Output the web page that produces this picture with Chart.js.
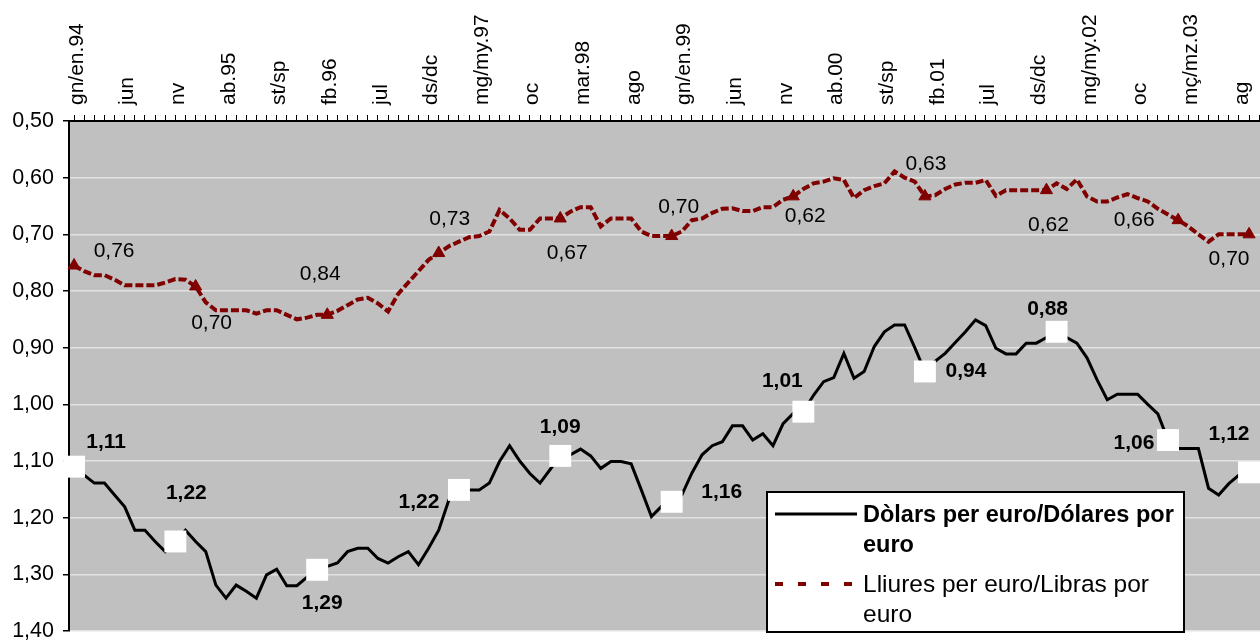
<!DOCTYPE html>
<html>
<head>
<meta charset="utf-8">
<script src="https://cdn.jsdelivr.net/npm/chart.js@4.4.1/dist/chart.umd.min.js"></script>
<style>
  html, body { margin: 0; padding: 0; width: 1260px; height: 640px; overflow: hidden; background: #fff; }
</style>
</head>
<body>
<canvas id="myCanvas" width="1300" height="660"></canvas>
<script>
var tickLabels = ['gn/en.94', 'jun', 'nv', 'ab.95', 'st/sp', 'fb.96', 'jul', 'ds/dc', 'mg/my.97', 'oc',
  'mar.98', 'ago', 'gn/en.99', 'jun', 'nv', 'ab.00', 'st/sp', 'fb.01', 'jul', 'ds/dc', 'mg/my.02', 'oc',
  'mç/mz.03', 'ag']

// dollars per euro, monthly from Jan 1994
var usd = [
  1.11, 1.125, 1.139, 1.139, 1.16, 1.181, 1.222, 1.222, 1.242, 1.26, 1.242, 1.222,
  1.242, 1.26, 1.319, 1.342, 1.319, 1.33, 1.342, 1.301, 1.291, 1.32, 1.32, 1.305,
  1.292, 1.286, 1.28, 1.26, 1.254, 1.254, 1.272, 1.28, 1.269, 1.26, 1.283, 1.254,
  1.222, 1.169, 1.151, 1.151, 1.151, 1.139, 1.101, 1.073, 1.10, 1.122, 1.139, 1.115,
  1.091, 1.089, 1.079, 1.091, 1.113, 1.101, 1.101, 1.105, 1.151, 1.198, 1.18, 1.172,
  1.16, 1.121, 1.089, 1.073, 1.066, 1.038, 1.038, 1.063, 1.052, 1.073, 1.034, 1.016,
  1.013, 0.984, 0.96, 0.953, 0.91, 0.954, 0.942, 0.898, 0.872, 0.86, 0.86, 0.90,
  0.942, 0.924, 0.91, 0.891, 0.872, 0.851, 0.861, 0.901, 0.911, 0.911, 0.892, 0.892,
  0.882, 0.872, 0.882, 0.892, 0.918, 0.957, 0.992, 0.982, 0.982, 0.982, 1.0, 1.017,
  1.063, 1.078, 1.078, 1.078, 1.148, 1.16, 1.14, 1.125, 1.12
]

// pounds per euro
var gbp = [
  0.755, 0.765, 0.772, 0.772, 0.78, 0.79, 0.79, 0.79, 0.79, 0.785, 0.779, 0.78,
  0.792, 0.82, 0.834, 0.834, 0.834, 0.834, 0.84, 0.834, 0.834, 0.842, 0.85, 0.847,
  0.842, 0.842, 0.835, 0.825, 0.815, 0.812, 0.822, 0.836, 0.805, 0.785, 0.765, 0.745,
  0.733, 0.721, 0.713, 0.705, 0.703, 0.695, 0.657, 0.672, 0.692, 0.692, 0.672, 0.672,
  0.672, 0.66, 0.652, 0.652, 0.686, 0.672, 0.672, 0.672, 0.695, 0.703, 0.703, 0.703,
  0.695, 0.675, 0.672, 0.662, 0.655, 0.654, 0.659, 0.659, 0.652, 0.652, 0.639, 0.633,
  0.62, 0.61, 0.607, 0.601, 0.604, 0.636, 0.622, 0.615, 0.61, 0.589, 0.6, 0.607,
  0.633, 0.631, 0.62, 0.612, 0.609, 0.609, 0.604, 0.632, 0.622, 0.622, 0.622, 0.622,
  0.622, 0.61, 0.62, 0.603, 0.633, 0.642, 0.642, 0.635, 0.629, 0.636, 0.642, 0.655,
  0.665, 0.675, 0.686, 0.70, 0.713, 0.70, 0.70, 0.70, 0.70
]

// marked points and the texts printed next to them
var usdMarks = [0, 10, 24, 38, 48, 59, 72, 84, 97, 108, 116]
var usdNotes = ['1,11', '1,22', '1,29', '1,22', '1,09', '1,16', '1,01', '0,94', '0,88', '1,06', '1,12']
var gbpMarks = [0, 12, 25, 36, 48, 59, 71, 84, 96, 109, 116]
var gbpNotes = ['0,76', '0,70', '0,84', '0,73', '0,67', '0,70', '0,62', '0,63', '0,62', '0,66', '0,70']

// months Jan 1994 .. Dec 2003
var months = []
for (var i = 0; i < 120; i++) {
  months.push((1994 + Math.floor(i / 12)) + '-' + (i % 12 + 1))
}

// where each note sits relative to its marker (px)
var usdNoteOffsets = [[32, -24], [11, -48], [5, 33], [-40, 12], [0, -29], [50, -10], [-21, -30], [41, 0], [-9, -23], [-34, 3], [-20, -38]]
var gbpNoteOffsets = [[40, -14], [16, 37], [-7, -41], [11, -34], [7, 35], [7, -29], [12, 20], [1, -32], [2, 35], [-44, 0], [-20, 25]]

var FONT = '"Liberation Sans", Arial, sans-serif'
Chart.defaults.font.family = FONT
Chart.defaults.color = '#000'

var plotBg = {
  id: 'plotBg',
  beforeDraw: function (chart) {
    var c = chart.ctx, a = chart.chartArea
    c.save()
    c.fillStyle = '#fff'
    c.fillRect(0, 0, chart.width, chart.height)
    c.fillStyle = '#c0c0c0'
    c.fillRect(a.left, a.top, a.right - a.left, a.bottom - a.top)
    c.restore()
  }
}

var notes = {
  id: 'notes',
  afterDatasetsDraw: function (chart) {
    var c = chart.ctx
    var sets = [
      { meta: chart.getDatasetMeta(0), idx: usdMarks, txt: usdNotes, off: usdNoteOffsets, font: 'bold 21px ' + FONT },
      { meta: chart.getDatasetMeta(1), idx: gbpMarks, txt: gbpNotes, off: gbpNoteOffsets, font: '21px ' + FONT }
    ]
    c.save()
    c.fillStyle = '#000'
    c.textAlign = 'center'
    c.textBaseline = 'middle'
    sets.forEach(function (s) {
      c.font = s.font
      s.idx.forEach(function (k, j) {
        var p = s.meta.data[k]
        if (!p) return
        c.fillText(s.txt[j], p.x + s.off[j][0], p.y + s.off[j][1])
      })
    })
    c.restore()
  }
}

function wrap(c, text, maxW) {
  var words = text.split(' '), lines = [], cur = ''
  words.forEach(function (w) {
    var t = cur ? cur + ' ' + w : w
    if (c.measureText(t).width > maxW && cur) { lines.push(cur); cur = w } else { cur = t }
  })
  lines.push(cur)
  return lines
}

var boxLegend = {
  id: 'boxLegend',
  afterDraw: function (chart) {
    var c = chart.ctx
    var ds = chart.data.datasets
    c.save()
    c.fillStyle = '#fff'
    c.fillRect(766, 491, 418, 141)
    c.strokeStyle = '#000'
    c.lineWidth = 2
    c.strokeRect(767, 492, 417, 140)

    // dollars
    c.beginPath()
    c.strokeStyle = '#000'
    c.lineWidth = 3
    c.moveTo(775, 514); c.lineTo(857, 514)
    c.stroke()
    c.fillStyle = '#000'
    c.textAlign = 'left'
    c.textBaseline = 'alphabetic'
    c.font = 'bold 23.5px ' + FONT
    wrap(c, ds[0].label, 318).forEach(function (l, j) { c.fillText(l, 863, 522 + j * 30) })

    // pounds
    c.beginPath()
    c.strokeStyle = '#800000'
    c.lineWidth = 4
    c.setLineDash([8, 15])
    c.moveTo(775, 584); c.lineTo(860, 584)
    c.stroke()
    c.setLineDash([])
    c.font = '24.5px ' + FONT
    wrap(c, ds[1].label, 318).forEach(function (l, j) { c.fillText(l, 863, 592 + j * 30) })
    c.restore()
  }
}

var ctx = document.getElementById('myCanvas')
var myChart = new Chart(ctx, {
  type: 'line',
  data: {
    labels: months,
    datasets: [
      {
        label: 'Dòlars per euro/Dólares por euro',
        data: usd,
        borderColor: '#000',
        borderWidth: 3,
        tension: 0,
        clip: false,
        pointStyle: 'rect',
        pointRadius: function (c) { return usdMarks.indexOf(c.dataIndex) >= 0 ? 15.5 : 0 },
        pointBackgroundColor: '#fff',
        pointBorderColor: '#fff',
        pointBorderWidth: 0
      },
      {
        label: 'Lliures per euro/Libras por euro',
        data: gbp,
        borderColor: '#800000',
        borderWidth: 4,
        borderDash: [8, 3],
        tension: 0,
        clip: false,
        pointStyle: 'triangle',
        pointRadius: function (c) { return gbpMarks.indexOf(c.dataIndex) >= 0 ? 7 : 0 },
        pointBackgroundColor: '#800000',
        pointBorderColor: '#800000',
        pointBorderWidth: 1
      }
    ]
  },
  options: {
    responsive: false,
    animation: false,
    events: [],
    layout: { padding: { left: 0, top: 0, right: 8, bottom: 29 } },
    plugins: { legend: { display: false }, tooltip: { enabled: false } },
    scales: {
      x: {
        position: 'top',
        offset: true,
        grid: { offset: false, drawOnChartArea: false, drawTicks: true, tickLength: 6, color: '#000', lineWidth: 1 },
        border: { display: true, color: '#000', width: 2 },
        ticks: {
          autoSkip: false, maxRotation: 90, minRotation: 90, padding: 10, labelOffset: 28,
          font: { size: 21 },
          callback: function (v, i) { return i % 5 === 0 ? tickLabels[i / 5] : '' }
        },
        afterFit: function (s) { s.height = 121 }
      },
      y: {
        reverse: true,
        min: 0.5,
        max: 1.4,
        grid: { color: '#e2e2e2', lineWidth: 1.5, tickColor: '#000', tickLength: 6, tickWidth: 1.5 },
        border: { display: true, color: '#000', width: 2 },
        ticks: {
          stepSize: 0.1, padding: 9,
          font: { size: 21.5 },
          callback: function (v) { return v.toFixed(2).replace('.', ',') }
        },
        afterFit: function (s) { s.width = 69 }
      }
    }
  },
  plugins: [plotBg, notes, boxLegend]
})
</script>
</body>
</html>
